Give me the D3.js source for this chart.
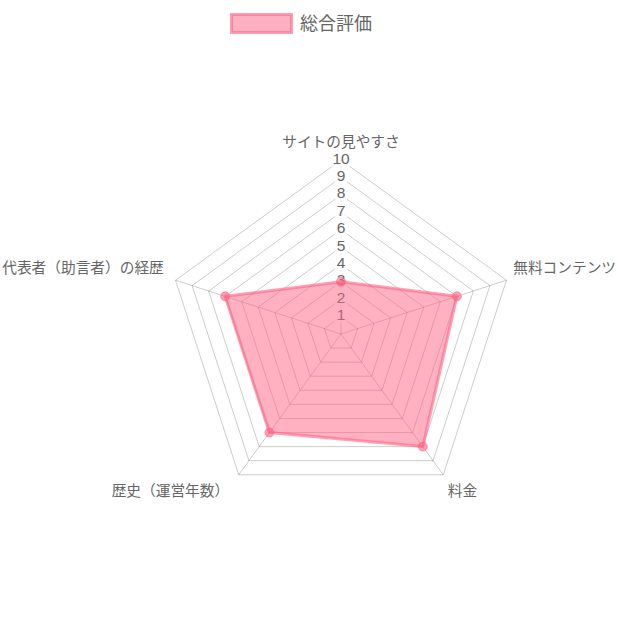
<!DOCTYPE html>
<html><head><meta charset="utf-8">
<script src="https://cdn.jsdelivr.net/npm/d3@7"></script>
<style>html,body{margin:0;padding:0;background:#fff;}svg{display:block;}</style>
</head><body>
<svg id="chart" width="619" height="619"></svg>
<script>
const categories = ["サイトの見やすさ","無料コンテンツ","料金","歴史（運営年数）","代表者（助言者）の経歴"];
const seriesName = "総合評価";
const values = [3,7,8,7,7];
const tickValues = [1,2,3,4,5,6,7,8,9,10];

const svg = d3.select("#chart");
const cx = 341, cy = 334, R = 174;
const r = d3.scaleLinear().domain([0,10]).range([0,R]);
const ang = d3.scaleLinear().domain([0,categories.length]).range([0,2*Math.PI]);
const pt = (i,d) => [cx + d*Math.sin(ang(i)), cy - d*Math.cos(ang(i))];
const jpFont = "'Noto Sans CJK JP', 'Noto Sans', sans-serif";
const numFont = "'Liberation Sans', Arial, sans-serif";
const gridColor = "rgba(0,0,0,0.2)";

// grid pentagons
const g = svg.append("g");
g.selectAll("polygon.grid").data(tickValues).enter().append("polygon")
  .attr("points", v => categories.map((c,i)=>pt(i,r(v)).join(",")).join(" "))
  .attr("fill","none").attr("stroke",gridColor).attr("stroke-width",1);
// angle lines
g.selectAll("line.angle").data(categories).enter().append("line")
  .attr("x1",cx).attr("y1",cy)
  .attr("x2",(c,i)=>pt(i,R)[0]).attr("y2",(c,i)=>pt(i,R)[1])
  .attr("stroke",gridColor).attr("stroke-width",1);

// tick labels
const tg = svg.append("g");
tickValues.forEach(v=>{
  const y = cy - r(v) - 2;
  const t = tg.append("text").attr("x",cx).attr("y",y).attr("text-anchor","middle")
    .attr("dominant-baseline","central").attr("font-family",numFont).attr("font-size",15.5)
    .attr("fill","#666").text(v);
  const bb = t.node().getBBox();
  tg.insert("rect","text").attr("x",bb.x-2).attr("y",y-8.5).attr("width",bb.width+4).attr("height",17)
    .attr("fill","rgba(255,255,255,0.75)");
});

// point labels
const lg = svg.append("g");
categories.forEach((c,i)=>{
  const deg = i*360/categories.length;
  const [x,y] = pt(i,R+6);
  let anchor = (deg===0||deg===180)?"middle":(deg<180?"start":"end");
  let base = (deg>270||deg<90)?"auto":"hanging";
  const dx = anchor==="start" ? 1 : (anchor==="end" ? -6 : 0);
  const dy = (deg===0) ? -7 : ((deg>270||deg<90) ? -5 : 3);
  lg.append("text").attr("x",x+dx).attr("y",y+dy)
    .attr("text-anchor",anchor).attr("dominant-baseline",base)
    .attr("font-family",jpFont).attr("font-size",14.7).attr("fill","#666").text(c);
});

// data
const line = d3.lineRadial().angle((d,i)=>ang(i)).radius(d=>r(d)).curve(d3.curveLinearClosed);
svg.append("path").datum(values)
  .attr("transform",`translate(${cx},${cy})`)
  .attr("d",line)
  .attr("fill","rgba(255,99,132,0.5)")
  .attr("stroke","rgba(255,99,132,0.6)").attr("stroke-width",3).attr("stroke-linejoin","round");
svg.selectAll("circle.pt").data(values).enter().append("circle")
  .attr("cx",(d,i)=>pt(i,r(d))[0]).attr("cy",(d,i)=>pt(i,r(d))[1]).attr("r",4.5)
  .attr("fill","rgba(255,99,132,0.6)").attr("stroke","rgba(255,99,132,0.6)").attr("stroke-width",1);

// legend
const leg = svg.append("g");
leg.append("rect").attr("x",231.5).attr("y",14.5).attr("width",60).attr("height",18)
  .attr("fill","rgba(255,99,132,0.5)").attr("stroke","rgba(255,99,132,0.6)").attr("stroke-width",3);
leg.append("text").attr("x",300).attr("y",21.5).attr("dominant-baseline","central")
  .attr("font-family",jpFont).attr("font-size",18).attr("fill","#666").text(seriesName);
</script>
</body></html>
